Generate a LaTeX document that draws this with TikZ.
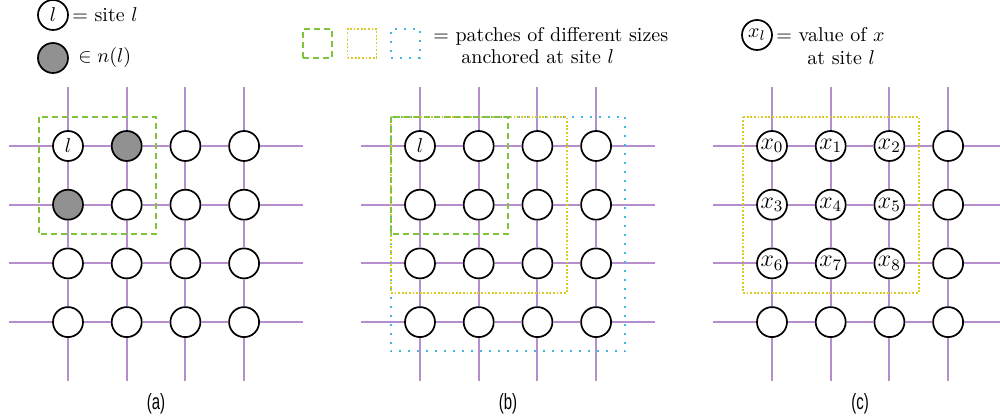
\documentclass[tikz,border=0pt]{standalone}
\usepackage{fontspec}
\usepackage{graphicx}
\usetikzlibrary{calc}
\newfontfamily\labelfont{Liberation Sans}
\definecolor{gridpurple}{RGB}{182,142,206}
\definecolor{patchgreen}{RGB}{128,196,62}
\definecolor{patchyellow}{RGB}{214,204,34}
\definecolor{patchblue}{RGB}{64,182,226}
\definecolor{nbrgray}{RGB}{145,145,145}
\begin{document}
\begin{tikzpicture}[x=0.5pt,y=-0.5pt,
  site/.style={circle,draw=black,line width=0.85pt,fill=white,minimum size=15pt,inner sep=0pt,font=\fontsize{10}{12}\selectfont},
  xsite/.style={site,font=\fontsize{12}{14}\selectfont},
  gridline/.style={draw=gridpurple,line width=1.05pt},
  patchA/.style={draw=patchgreen,line width=0.9pt,dash pattern=on 3pt off 2pt},
  patchB/.style={draw=patchyellow,line width=0.9pt,dash pattern=on 0.9pt off 0.9pt},
  patchC/.style={draw=patchblue,line width=1pt,dash pattern=on 1pt off 3.5pt},
  legbox/.style={rectangle,minimum size=14.5pt,inner sep=0pt},
  txt/.style={inner sep=0pt,font=\fontsize{10}{11.25}\selectfont,align=left},
  panel/.style={inner sep=0pt,font=\labelfont\fontsize{11}{13}\selectfont}]
\useasboundingbox (0,0) rectangle (1000,416);

% ---- nodes of the three grids ----
\foreach \i in {0,...,3}{\foreach \j in {0,...,3}{
  \pgfmathtruncatemacro\s{\i+\j}
  \ifnum\s=0 \def\lab{$l$}\def\fc{white}\else
    \ifnum\s=1 \def\lab{}\def\fc{nbrgray}\else\def\lab{}\def\fc{white}\fi\fi
  \node[site,fill=\fc] (a\i\j) at ({68+58.7*\i},{146+58.7*\j}) {\lab};
  \ifnum\s=0 \def\lab{$l$}\else\def\lab{}\fi
  \node[site] (b\i\j) at ({420+58.7*\i},{146+58.7*\j}) {\lab};
  \pgfmathtruncatemacro\k{3*\j+\i}
  \def\lab{}
  \ifnum\i<3 \ifnum\j<3 \def\lab{$x_{\k}$}\fi\fi
  \node[xsite] (c\i\j) at ({772+58.7*\i},{146+58.7*\j}) {\lab};
}}

% ---- free ends of the grid lines ----
\foreach \p/\xo/\xe in {a/68/302.8,b/420/654.8,c/772/1000}{
  \foreach \j in {0,...,3}{
    \coordinate (\p W\j) at ({\xo-58.7},{146+58.7*\j});
    \coordinate (\p E\j) at (\xe,{146+58.7*\j});
    \coordinate (\p N\j) at ({\xo+58.7*\j},87);
    \coordinate (\p S\j) at ({\xo+58.7*\j},380.8);
  }
  \foreach \j in {0,...,3}{
    \draw[gridline] (\p W\j) -- (\p0\j) -- (\p1\j) -- (\p2\j) -- (\p3\j) -- (\p E\j);
    \draw[gridline] (\p N\j) -- (\p\j0) -- (\p\j1) -- (\p\j2) -- (\p\j3) -- (\p S\j);
  }
}

% ---- patches ----
\draw[patchA] ($(a00)+(-29.35,-29.35)$) rectangle ($(a11)+(29.35,29.35)$);
\draw[patchC] ($(b00)+(-29.35,-29.35)$) rectangle ($(b33)+(29.35,29.35)$);
\draw[patchB] ($(b00)+(-29.35,-29.35)$) rectangle ($(b22)+(29.35,29.35)$);
\draw[patchA] ($(b00)+(-29.35,-29.35)$) rectangle ($(b11)+(29.35,29.35)$);
\draw[patchB] ($(c00)+(-29.35,-29.35)$) rectangle ($(c22)+(29.35,29.35)$);

% ---- legends ----
\node[site] (legl) at (53,15) {$l$};
\node[txt,anchor=west] (legltxt) at (72,15) {$=$ site $l$};
\node[site,fill=nbrgray] (legn) at (53,58) {};
\node[txt,anchor=west] (legntxt) at (78,58) {$\in n(l)$};

\node[legbox,patchA] (legA) at (317.5,43.5) {};
\node[legbox,patchB] (legB) at (362,43.5) {};
\node[legbox,patchC] (legC) at (405,43.5) {};
\node[txt,anchor=north west] (legptxt) at (433,26.8)
  {$=$ patches of different sizes\\\hspace*{14pt}anchored at site $l$};

\node[site] (legx) at (757,35) {$x_l$};
\node[txt,anchor=north west] (legxtxt) at (776,27.1)
  {$=$ value of $x$\\\hspace*{15.5pt}at site $l$};

% ---- panel labels ----
\node[panel] (pa) at (156,404) {\scalebox{0.68}[1]{(a)}};
\node[panel] (pb) at (508,404) {\scalebox{0.68}[1]{(b)}};
\node[panel] (pc) at (860,404) {\scalebox{0.68}[1]{(c)}};
\end{tikzpicture}
\end{document}
